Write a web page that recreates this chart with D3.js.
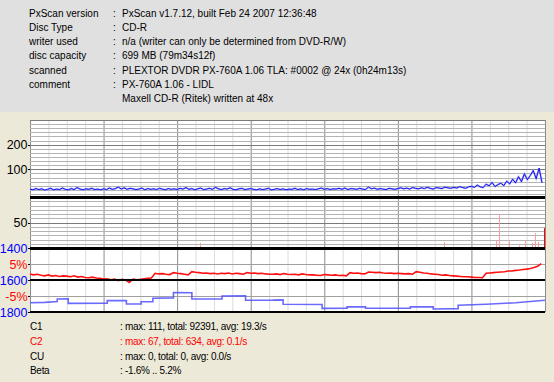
<!DOCTYPE html>
<html>
<head>
<meta charset="utf-8">
<script src="https://cdn.jsdelivr.net/npm/d3@7"></script>
<style>
  body { margin: 0; background: #ece9d8; }
  svg { display: block; font-family: "Liberation Sans", Arial, sans-serif; }
</style>
</head>
<body>
<div id="chart"></div>
<script>
var width = 554;
var height = 382;

// header info
var infoLabels = ['PxScan version', 'Disc Type', 'writer used', 'disc capacity', 'scanned', 'comment', ''];
var infoValues = ['PxScan v1.7.12, built Feb 24 2007 12:36:48', 'CD-R',
	'n/a (writer can only be determined from DVD-R/W)', '699 MB (79m34s12f)',
	'PLEXTOR DVDR PX-760A 1.06 TLA: #0002 @ 24x (0h24m13s)', 'PX-760A 1.06 - LIDL',
	'Maxell  CD-R (Ritek) written at 48x'];

// summary under the graph
var sumLabels = ['C1', 'C2', 'CU', 'Beta'];
var sumValues = ['max: 111, total: 92391, avg: 19.3/s', 'max: 67, total: 634, avg: 0.1/s',
	'max: 0, total: 0, avg: 0.0/s', '-1.6% .. 5.2%'];
var sumColors = ['#000', '#ff0000', '#000', '#000'];

// tick labels
var c1Ticks = [200, 100];
var c2Ticks = [50];
var jitterTicks = [1400, 1600, 1800];
var betaTicks = [5, -5];

// C1 errors, one sample every 4 MB
var c1Step = 4;
var c1Values = [
	20,17,22,18,21,16,19,23,17,20,18,24,19,17,22,18,26,20,17,21,19,23,18,20,17,
	21,18,24,19,22,28,20,25,19,23,21,18,20,24,17,22,19,21,18,23,20,17,22,19,21,
	18,23,20,26,19,22,17,21,24,18,20,23,19,27,21,18,22,20,25,19,17,21,23,18,20,
	22,19,17,21,18,20,23,17,19,22,18,21,17,20,19,23,18,21,17,22,19,20,18,21,24,
	19,22,18,21,20,23,19,24,18,22,21,19,23,20,18,28,21,24,19,22,20,18,23,21,19,
	22,25,21,24,20,26,23,21,25,22,27,23,20,26,24,22,28,25,23,27,24,30,26,23,29,
	31,27,36,29,26,40,33,47,30,38,44,34,52,41,60,45,70,50,82,58,75,95,62,105,45
];

// C2 errors (MB position, value)
var c2MB = [231, 563, 633, 638, 651, 664, 673, 683, 687, 690, 698];
var c2Values = [10, 11, 15, 67, 13, 5, 15, 10, 29, 12, 39];

// Beta %, one sample every 5 MB
var betaStep = 5;
var betaValues = [
	1.9,1.6,1.8,1.5,
	1.3,1.6,1.2,1.4,1.1,1.3,
	1.2,1.0,1.3,0.9,1.1,0.8,0.7,0.9,0.6,
	0.5,0.3,0.4,0.1,0.3,-0.2,0.2,0.0,-0.8,0.3,0.1,0.2,0.4,0.5,
	0.6,
	2.1,1.9,2.0,1.8,1.7,
	2.3,2.1,2.0,1.8,1.6,
	2.6,2.4,2.3,2.1,2.2,2.0,
	2.1,1.9,2.1,2.0,2.2,1.9,2.1,2.0,1.8,
	2.3,2.1,2.2,2.0,2.1,1.9,1.8,
	1.8,1.9,1.7,
	2.0,1.8,1.7,1.8,1.6,
	1.9,1.7,1.6,1.6,1.5,1.4,
	1.7,1.6,1.5,1.6,1.4,1.5,1.3,
	2.3,2.1,2.2,2.0,1.9,
	2.5,2.4,2.3,2.4,2.2,2.1,2.2,2.0,
	2.1,2.0,1.9,2.0,1.8,
	2.6,2.4,2.2,2.1,1.9,1.8,1.7,1.5,1.6,
	1.4,1.3,1.2,1.1,1.0,1.0,0.9,0.8,0.8,0.7,
	2.1,2.2,2.3,2.4,2.5,2.6,2.8,
	2.8,3.0,3.1,3.3,3.4,3.6,3.9,4.3,5.1
];

// jitter steps
var jitterMB = [0, 20, 37, 37, 52, 52, 105, 105, 131, 131, 151, 151, 167, 167, 195, 195, 220, 220,
	261, 261, 293, 293, 330, 344, 344, 397, 397, 431, 431, 456, 456, 517, 517, 548, 548,
	582, 582, 620, 660, 700];
var jitterValues = [1742, 1740, 1735, 1719, 1718, 1746, 1745, 1729, 1728, 1750, 1749, 1736, 1735, 1714,
	1712, 1679, 1680, 1719, 1718, 1700, 1699, 1727, 1726, 1724, 1752, 1753, 1777, 1776, 1767,
	1768, 1777, 1776, 1767, 1768, 1781, 1779, 1758, 1752, 1742, 1727];

var svg = d3.select('#chart').append('svg')
	.attr('width', width)
	.attr('height', height);

svg.append('rect').attr('width', width).attr('height', height).attr('fill', '#ece9d8');
svg.append('rect').attr('width', width).attr('height', 112).attr('fill', '#e0e0e0');

// header text
var info = svg.append('g').attr('font-size', '10px');
infoLabels.forEach(function(l, i){
	var y = 13 + i * 14.3;
	info.append('text').attr('x', 29).attr('y', y).attr('dy', '0.35em').text(l);
	info.append('text').attr('x', 113).attr('y', y).attr('dy', '0.35em').text(i < 6 ? ':' : '');
	info.append('text').attr('x', 122).attr('y', y).attr('dy', '0.35em').text(infoValues[i]);
});

// scales
var xScale = d3.scaleLinear().domain([0, 700]).range([30, 545]);
var yC1 = d3.scaleLinear().domain([0, 300]).range([194, 120]);
var yC2 = d3.scaleLinear().domain([0, 100]).range([248, 197]);
var yBeta = d3.scaleLinear().domain([-10, 10]).range([312, 248]);
var yJit = d3.scaleLinear().domain([1400, 1800]).range([248, 312]);

var plot = svg.append('g');
plot.append('rect').attr('x', 30).attr('y', 120).attr('width', 515).attr('height', 192).attr('fill', '#fff');

// vertical grid
plot.selectAll('.vgrid').data(d3.range(0, 701, 25))
	.enter().append('line').classed('vgrid', true)
	.attr('x1', function(d){ return xScale(d) + 0.5; })
	.attr('x2', function(d){ return xScale(d) + 0.5; })
	.attr('y1', 120).attr('y2', 312)
	.attr('stroke', function(d){ return d % 100 == 0 ? '#8c8c8c' : '#dcdcdc'; })
	.attr('stroke-width', 1);

// horizontal grid in C1 / C2
var c1Grid = d3.range(0, 301, 100 / 6).filter(function(d){ return yC1(d) < 195; });
plot.selectAll('.hgrid1').data(c1Grid)
	.enter().append('line')
	.attr('x1', 30).attr('x2', 545)
	.attr('y1', function(d){ return Math.round(yC1(d)) + 0.5; })
	.attr('y2', function(d){ return Math.round(yC1(d)) + 0.5; })
	.attr('stroke', function(d){ return Math.round(d) % 100 == 0 && d > 0 ? '#7a7a7a' : '#b4b4b4'; });

var c2Grid = d3.range(100 / 12, 100, 100 / 12);
plot.selectAll('.hgrid2').data(c2Grid)
	.enter().append('line')
	.attr('x1', 30).attr('x2', 545)
	.attr('y1', function(d){ return Math.round(yC2(d)) + 0.5; })
	.attr('y2', function(d){ return Math.round(yC2(d)) + 0.5; })
	.attr('stroke', function(d){ return Math.round(d) == 50 ? '#7a7a7a' : '#b4b4b4'; });

// beta grid
plot.selectAll('.hgrid3').data(betaTicks)
	.enter().append('line')
	.attr('x1', 30).attr('x2', 545)
	.attr('y1', function(d){ return yBeta(d) + 0.5; })
	.attr('y2', function(d){ return yBeta(d) + 0.5; })
	.attr('stroke', '#a0a0a0');

// C1 line
var c1Line = d3.line()
	.x(function(d, i){ return xScale(i * c1Step); })
	.y(function(d){ return yC1(d); });
plot.append('path').datum(c1Values)
	.attr('d', c1Line).attr('fill', 'none')
	.attr('stroke', '#9a9aff').attr('stroke-width', 1.8).attr('opacity', 0.8);
plot.append('path').datum(c1Values)
	.attr('d', c1Line).attr('fill', 'none')
	.attr('stroke', '#0000ee').attr('stroke-width', 0.9);

// C2 spikes
plot.selectAll('.c2').data(c2Values)
	.enter().append('rect').classed('c2', true)
	.attr('x', function(d, i){ return Math.round(xScale(c2MB[i])); })
	.attr('width', 1)
	.attr('y', function(d){ return yC2(d); })
	.attr('height', function(d){ return yC2(0) - yC2(d); })
	.attr('fill', function(d, i){ return i == c2Values.length - 1 ? '#ff0000' : '#ff9c9c'; });

// beta line
plot.append('path').datum(betaValues)
	.attr('d', d3.line()
		.x(function(d, i){ return xScale(i * betaStep); })
		.y(function(d){ return yBeta(d); }))
	.attr('fill', 'none').attr('stroke', '#ff1010').attr('stroke-width', 1.6);

// jitter line
plot.append('path').datum(jitterValues)
	.attr('d', d3.line()
		.x(function(d, i){ return xScale(jitterMB[i]); })
		.y(function(d){ return yJit(d); }))
	.attr('fill', 'none').attr('stroke', '#5050ff').attr('stroke-width', 1.6).attr('opacity', 0.85);

// separators
plot.append('rect').attr('x', 30).attr('y', 196).attr('width', 515).attr('height', 3).attr('fill', '#000');
plot.append('rect').attr('x', 30).attr('y', 247).attr('width', 515).attr('height', 3).attr('fill', '#000');
plot.append('rect').attr('x', 30).attr('y', 279).attr('width', 515).attr('height', 2).attr('fill', '#000');
plot.append('rect').attr('x', 30).attr('y', 311).attr('width', 515).attr('height', 2).attr('fill', '#000');

// y labels
var labels = [];
c1Ticks.forEach(function(v){ labels.push({ y: yC1(v), t: String(v), c: '#000' }); });
c2Ticks.forEach(function(v){ labels.push({ y: yC2(v), t: String(v), c: '#000' }); });
jitterTicks.forEach(function(v){ labels.push({ y: yJit(v), t: String(v), c: '#0000ff' }); });
betaTicks.forEach(function(v){ labels.push({ y: yBeta(v), t: v + '%', c: '#ff0000' }); });

var lab = svg.append('g').attr('font-size', '12.5px');
lab.selectAll('text').data(labels)
	.enter().append('text')
	.attr('x', 27.5).attr('y', function(d){ return d.y; })
	.attr('dy', '0.36em').attr('text-anchor', 'end')
	.attr('fill', function(d){ return d.c; })
	.text(function(d){ return d.t; });
lab.selectAll('line').data(labels)
	.enter().append('line')
	.attr('x1', 28).attr('x2', 30)
	.attr('y1', function(d){ return Math.round(d.y) + 0.5; })
	.attr('y2', function(d){ return Math.round(d.y) + 0.5; })
	.attr('stroke', '#000');

// summary
var sum = svg.append('g').attr('font-size', '10px').attr('letter-spacing', '-0.3px');
sumLabels.forEach(function(l, i){
	var y = 326.7 + i * 14.7;
	sum.append('text').attr('x', 30).attr('y', y).attr('dy', '0.35em').attr('fill', sumColors[i]).text(l);
	sum.append('text').attr('x', 120).attr('y', y).attr('dy', '0.35em').attr('fill', sumColors[i]).text(': ' + sumValues[i]);
});
</script>
</body>
</html>
